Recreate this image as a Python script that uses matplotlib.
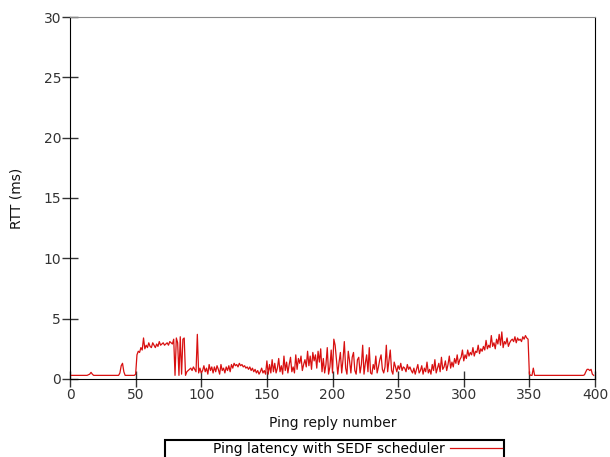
import numpy as np
import matplotlib
matplotlib.use('Agg')
import matplotlib.pyplot as plt
from matplotlib.patches import Rectangle

# RTT per ping reply (ms)
rtt = [
    0.3, 0.3, 0.3, 0.3, 0.3, 0.3, 0.3, 0.3, 0.3, 0.3,
    0.3, 0.3, 0.3, 0.3, 0.35, 0.4, 0.55, 0.4, 0.3, 0.3,
    0.3, 0.3, 0.3, 0.3, 0.3, 0.3, 0.3, 0.3, 0.3, 0.3,
    0.3, 0.3, 0.3, 0.3, 0.3, 0.3, 0.3, 0.3, 0.5, 1.1,
    1.3, 0.6, 0.3, 0.3, 0.3, 0.3, 0.3, 0.3, 0.3, 0.3,
    0.4, 2.0, 2.3, 2.2, 2.6, 2.4, 3.4, 2.5, 2.8, 2.6,
    3.0, 2.7, 2.6, 3.0, 2.8, 2.6, 2.9, 2.7, 3.1, 2.8,
    2.9, 3.0, 2.8, 2.9, 3.0, 2.8, 3.1, 3.0, 2.9, 3.3,
    0.3, 3.4, 3.0, 0.3, 3.5, 0.4, 3.3, 3.4, 0.3, 0.6,
    0.7, 0.8, 0.9, 0.7, 1.0, 0.8, 0.6, 3.7, 0.5, 0.9,
    0.5, 0.7, 1.1, 0.6, 0.9, 0.4, 1.2, 0.7, 1.0, 0.5,
    1.0, 0.6, 1.1, 0.8, 0.4, 1.2, 0.7, 0.9, 0.5, 1.0,
    0.7, 1.1, 0.6, 1.2, 0.9, 1.3, 1.1, 1.2, 1.0, 1.3,
    1.1, 1.2, 1.0, 1.1, 0.9, 1.0, 0.8, 1.0, 0.7, 0.9,
    0.6, 0.8, 0.5, 0.7, 0.4, 0.6, 0.9, 0.5, 0.7, 0.4,
    1.5, 0.4, 1.2, 0.5, 1.6, 0.6, 1.3, 0.5, 0.9, 1.7,
    0.6, 1.1, 0.4, 1.9, 0.7, 1.4, 0.5, 1.2, 1.8, 0.6,
    1.0, 0.5, 2.0, 0.8, 1.7, 1.3, 1.9, 0.7, 1.2, 1.6,
    1.0, 2.3, 1.1, 1.9, 0.8, 2.2, 1.5, 2.0, 0.9, 2.3,
    1.4, 2.5, 0.6, 1.7, 0.5, 1.2, 2.6, 0.4, 1.0, 2.4,
    0.5, 3.3, 2.8, 1.6, 0.4, 1.4, 2.2, 0.5, 1.6, 3.1,
    0.9, 0.4, 2.3, 1.5, 0.5, 1.8, 2.2, 0.7, 0.4, 1.6,
    1.8, 0.5, 1.2, 2.8, 0.4, 1.3, 2.0, 0.6, 2.6, 0.5,
    0.4, 1.2, 0.8, 1.9, 0.5, 1.0, 1.6, 2.0, 0.8, 0.5,
    1.0, 2.8, 0.6, 1.5, 2.4, 0.7, 0.4, 1.4, 1.0, 0.6,
    1.1, 0.8, 1.3, 0.7, 1.0, 0.9, 0.6, 1.2, 0.8, 1.0,
    0.7, 0.5, 0.9, 0.4, 0.8, 1.2, 0.5, 0.7, 1.1, 0.4,
    0.9, 0.6, 1.4, 0.5, 0.8, 0.4, 1.2, 0.7, 1.6, 0.5,
    0.9, 1.3, 0.6, 1.8, 0.8, 1.0, 1.5, 0.7, 1.2, 1.9,
    0.9, 1.4, 1.0, 1.7, 1.3, 2.0, 1.2, 1.6, 1.8, 2.4,
    1.5, 2.0, 1.7, 2.4, 1.9, 2.2, 2.0, 2.6, 1.9, 2.3,
    2.2, 2.8, 2.1, 2.5, 2.3, 2.7, 2.4, 3.2, 2.5, 2.8,
    2.6, 3.6, 2.7, 3.0, 2.5, 3.3, 2.9, 3.7, 2.8, 3.9,
    2.6, 3.1, 2.9, 3.4, 2.7, 3.0, 3.2, 3.3, 3.1, 3.5,
    3.0, 3.4, 3.2, 3.3, 3.1, 3.5, 3.3, 3.6, 3.4, 3.3,
    0.4, 0.3, 0.3, 0.9, 0.3, 0.3, 0.3, 0.3, 0.3, 0.3,
    0.3, 0.3, 0.3, 0.3, 0.3, 0.3, 0.3, 0.3, 0.3, 0.3,
    0.3, 0.3, 0.3, 0.3, 0.3, 0.3, 0.3, 0.3, 0.3, 0.3,
    0.3, 0.3, 0.3, 0.3, 0.3, 0.3, 0.3, 0.3, 0.3, 0.3,
    0.3, 0.3, 0.35, 0.6, 0.8, 0.8, 0.7, 0.8, 0.4, 0.3,
]
reply = np.arange(len(rtt))

xticks = [0, 50, 100, 150, 200, 250, 300, 350, 400]
yticks = [0, 5, 10, 15, 20, 25, 30]

fig = plt.figure(figsize=(6.1, 4.57), dpi=100)
ax = fig.add_axes([0.1148, 0.1707, 0.8606, 0.7921])

ax.plot(reply, rtt, color='#d81010', linewidth=0.9,
        label='Ping latency with SEDF scheduler')

ax.set_xlim(0, 400)
ax.set_ylim(0, 30)
ax.set_xticks(xticks)
ax.set_yticks(yticks)
ax.tick_params(direction='inout', length=11, width=1, labelsize=10,
               labelcolor='#333333', color='#333333', pad=1)

ax.spines['top'].set_color('#888888')
for s in ['left', 'right', 'bottom']:
    ax.spines[s].set_color('black')

ax.set_xlabel('Ping reply number', fontsize=10, color='#111111', labelpad=10)
ax.set_ylabel('RTT (ms)', fontsize=10, color='#111111', labelpad=14)

# legend box below the plot, partly cut by the bottom edge
fig.patches.append(Rectangle((0.2705, -0.01), 0.5557, 0.0472,
                             transform=fig.transFigure, fill=False,
                             edgecolor='black', linewidth=1.5))
leg = fig.legend(loc='center left', bbox_to_anchor=(0.349, 0.0175),
                 borderaxespad=0, borderpad=0, fontsize=10, frameon=False,
                 markerfirst=False, handlelength=3.7, handletextpad=0.4)

fig.savefig('out.png', dpi=100)
